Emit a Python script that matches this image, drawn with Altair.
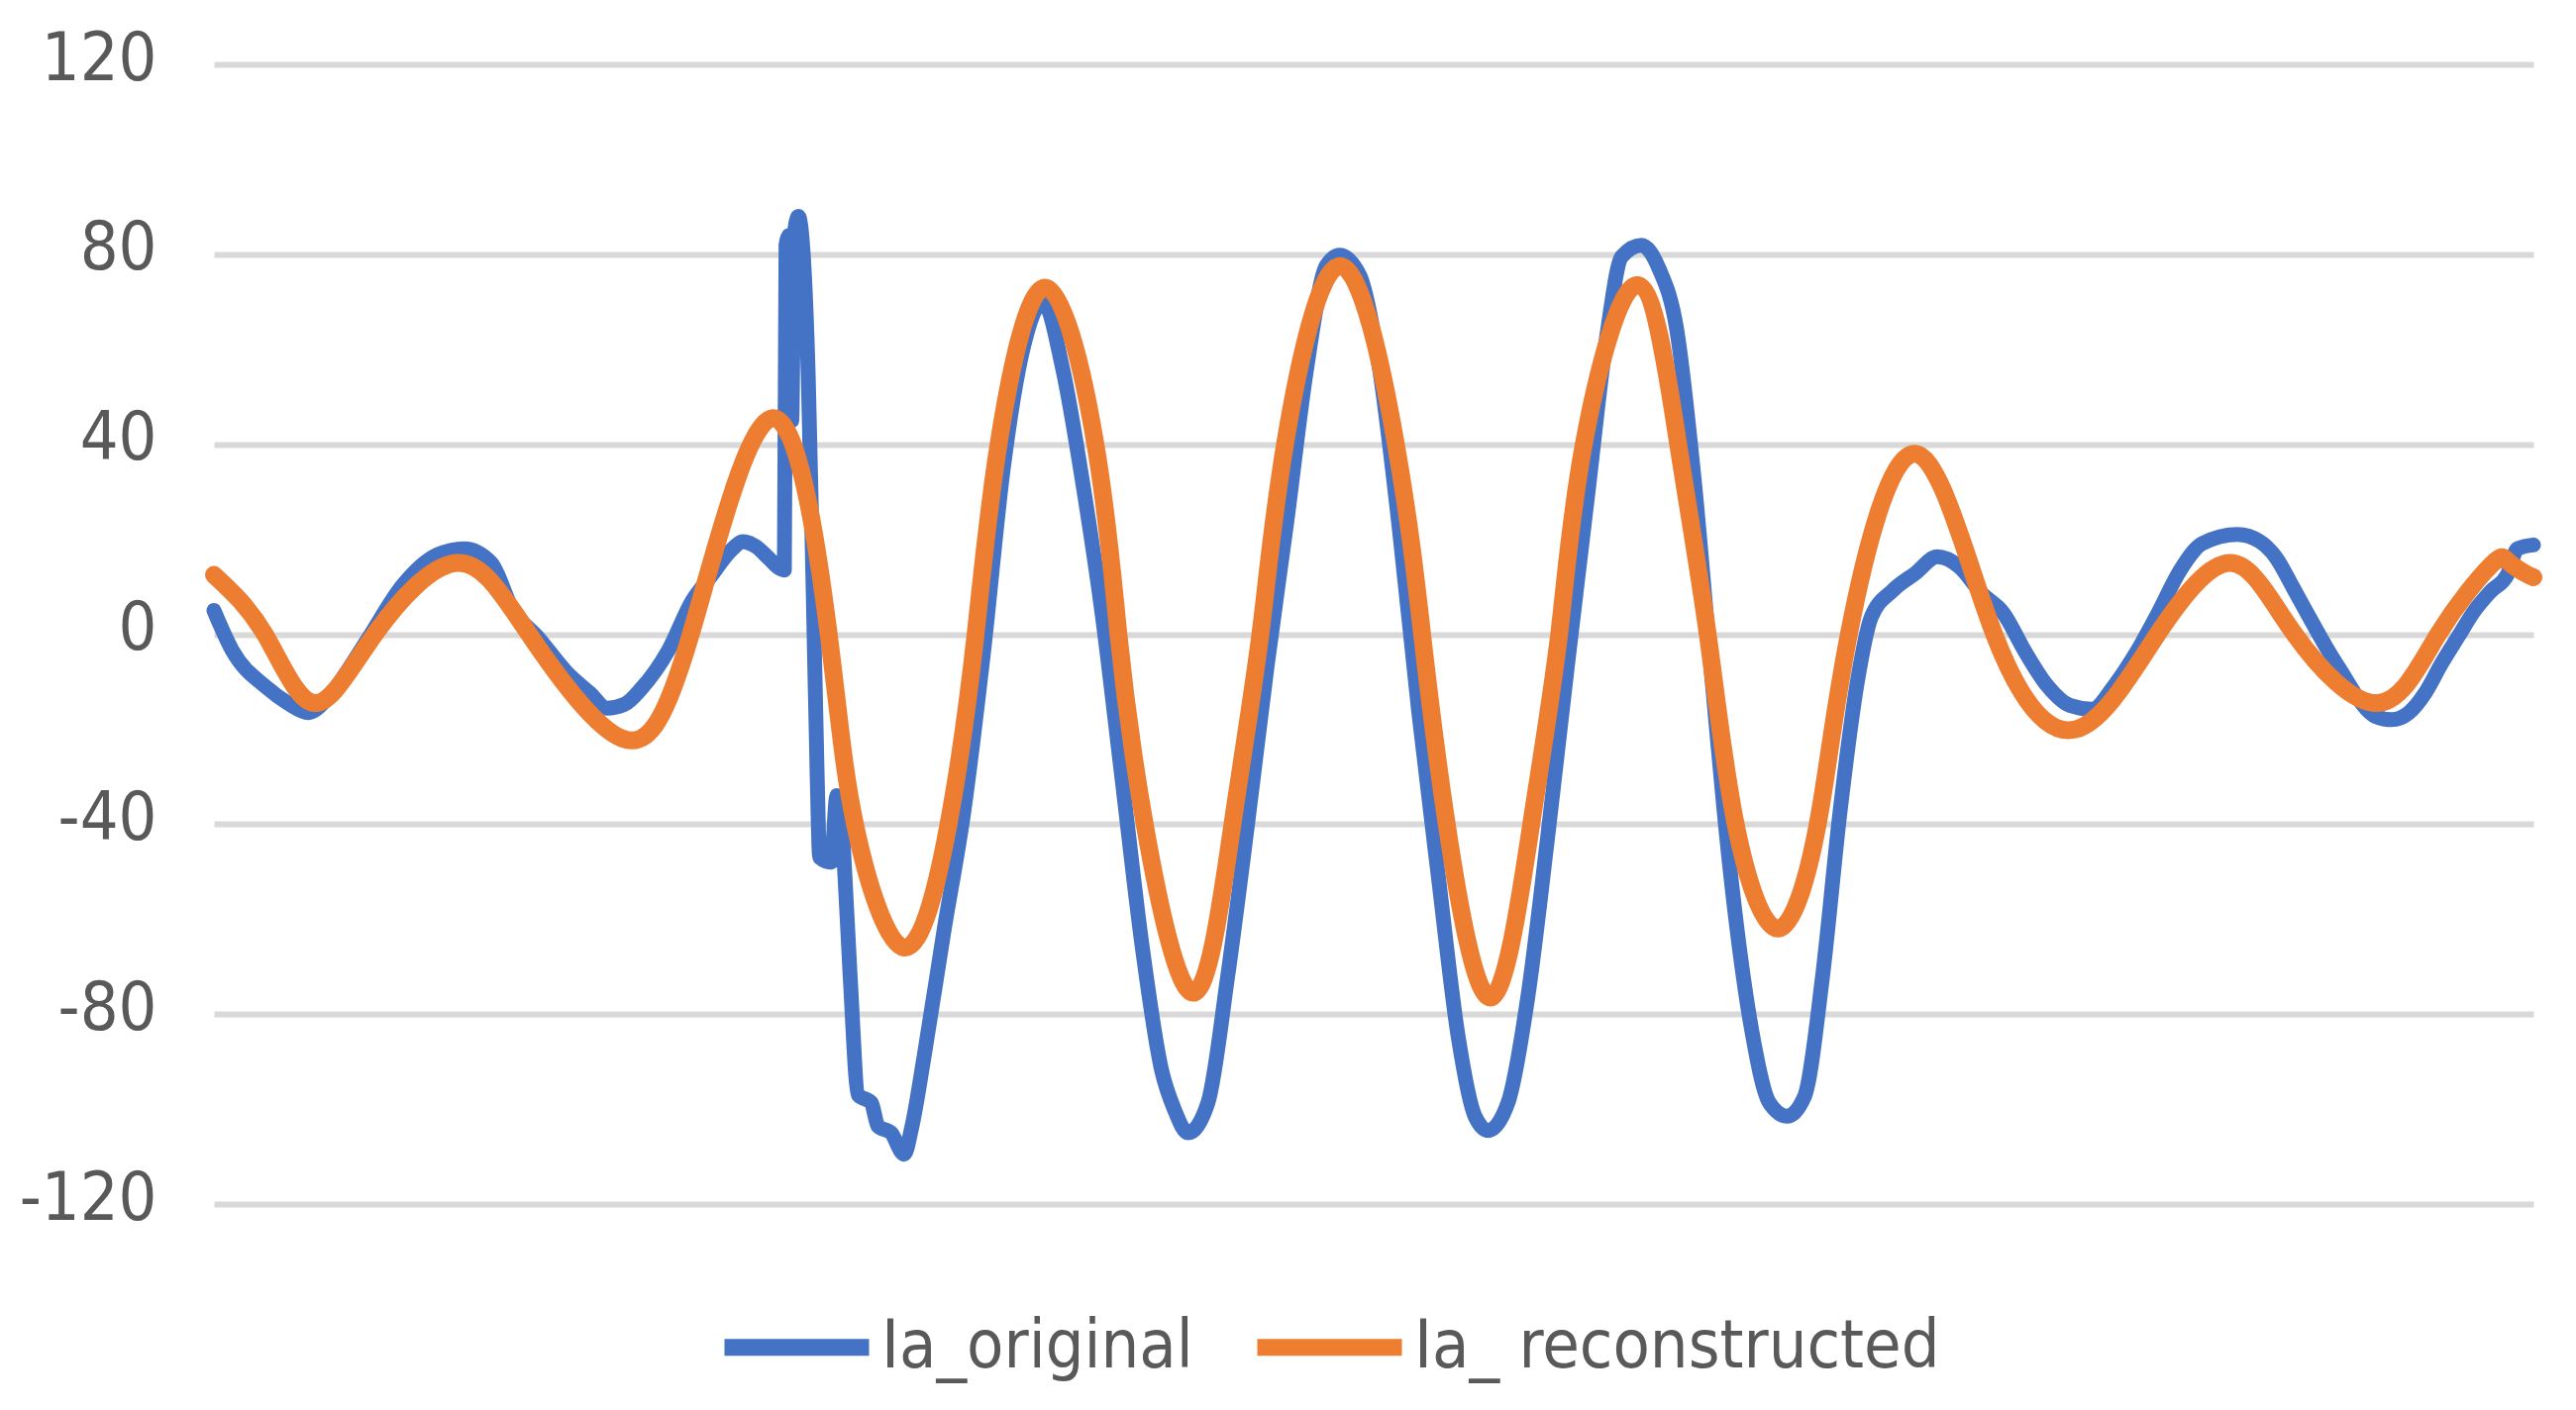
import altair as alt
import pandas as pd

# ---- data ----
SERIES = ["Ia_original", "Ia_ reconstructed"]
COLORS = ["#4472C4", "#ED7D31"]
Y_TICKS = [-120, -80, -40, 0, 40, 80, 120]

sample_orig = [0, 11, 32, 45, 57.5, 68, 77.7, 94, 115, 136, 152.5, 169, 181.5, 198, 214.8, 229,
               239.5, 250, 260, 277, 291.5, 302, 316, 322, 330, 338, 344, 347.5, 348.5, 350.5,
               352, 353.5, 356, 359, 362, 365, 367.5, 369, 376, 379.5, 381.5, 383.5, 387.5,
               392.5, 400.5, 404.5, 412.5, 420.5, 425, 432.6, 444.7, 456.8, 468.8, 480.9, 493,
               505, 517, 529, 541, 553.2, 565.3, 577.3, 585, 593.4, 605.5, 617.5, 629.6, 641.6,
               653.7, 665.7, 677.8, 685.8, 697.9, 710, 722, 734, 746, 758, 768.2, 776.3, 788.3,
               800.4, 812.4, 824.5, 836.5, 848.6, 857.6, 869.5, 880.3, 891, 901.8, 912.6, 923.3,
               936.8, 947.6, 958.4, 969, 979.9, 990.6, 1001.4, 1009.5, 1023, 1036.4, 1049.8,
               1063.3, 1076.8, 1090, 1103.7, 1117, 1130.6, 1144, 1157.5, 1171, 1184.4, 1197.9,
               1211.3, 1232.8, 1246.5, 1256.5, 1266.6, 1276.6, 1286.7, 1296.7, 1306.8, 1316.8,
               1326.9, 1336.9, 1347, 1357, 1367, 1377, 1387.2, 1397.2, 1403.2, 1413]
ia_orig = [5, -3.3, -11.2, -14.5, -16.5, -14, -9.6, -0.9, 10.3, 16.7, 18, 15, 5.5, -0.9, -8, -12.4,
           -15.6, -14.8, -11.6, -3.3, 7.1, 11.9, 18, 19.5, 18.5, 16, 14, 13.5, 82, 84,
           45, 84, 88, 80, 55, 10, -30, -47, -48, -34, -35, -45, -71.5,
           -97, -98.7, -103.6, -105, -109.5, -104, -89, -62.5, -37.4, -3.9, 35, 60.3,
           70, 56, 32.4, 4.5, -30.4, -65.3, -91.8, -100, -105, -98.7, -72.2, -40.2, -6.7,
           24, 56, 77.7, 79.8, 75.6, 56, 22.6, -16.5, -51.3, -84.8, -101.5, -104.5, -98.7,
           -76.4, -43, -6.7, 28.2, 63, 79.5, 81.9, 77, 64.4, 32.4, -9.5, -48.5,
           -83.4, -98.7, -101.5, -97.3, -72.2, -37.4, -9.5, 3.5, 9.3, 12.8, 16.3,
           14.2, 8.6, 4.5, -3.9, -10.9, -15, -15.8, -10.9, -3.9, 4.5, 13.5,
           19.1, 21, 19.5, 16, 9.8, 3.5, -2.7, -8.3, -13.8, -17.3,
           -18, -16.6, -12.4, -6.2, -0.6, 4.9, 9.1, 12.6, 18, 18.8]

sample_rec = [0, 31, 61, 98, 148, 192, 249, 290.5, 340.5, 374.5, 390.5, 420.5, 447.5, 464, 478,
              506.5, 537, 551, 567, 596.5, 620.5, 637.5, 652.5, 686, 720, 736, 751, 777.5, 802.5,
              819.5, 834.5, 867, 892, 910, 927, 953, 977, 996, 1036.5, 1084.5, 1134.5, 1184,
              1229, 1267.5, 1318, 1355, 1387, 1397, 1407, 1413]
ia_rec = [12.5, 0, -14.5, 0, 15, 0, -22, 0, 45.5, 0, -40, -66, -40, 0, 40,
          73, 40, 0, -40, -75.5, -40, 0, 40, 77.5, 40, 0, -40, -76.5, -40,
          0, 40, 73.5, 40, 0, -40, -62, -40, 0, 38, 0, -20, 0,
          15, 0, -14.5, 0, 14.5, 15.5, 13, 12]

df_o = pd.DataFrame({"sample": sample_orig, "value": ia_orig, "series": SERIES[0]})
df_r = pd.DataFrame({"sample": sample_rec, "value": ia_rec, "series": SERIES[1]})

FONT = "DejaVu Sans Condensed, Liberation Sans Narrow, DejaVu Sans"
TEXT = "#595959"

x = alt.X("sample:Q", scale=alt.Scale(domain=[0, 1413], nice=False, zero=False), axis=None)
y = alt.Y(
    "value:Q",
    scale=alt.Scale(domain=[-120, 120], nice=False),
    axis=alt.Axis(values=Y_TICKS, title=None, grid=True, gridColor="#D9D9D9", gridWidth=6,
                  domain=False, ticks=False, labelFontSize=68, labelColor=TEXT,
                  labelFont=FONT, labelPadding=58, labelOffset=-5,
                  labelExpr="'' + datum.value"),
)
color = alt.Color(
    "series:N",
    scale=alt.Scale(domain=SERIES, range=COLORS),
    legend=alt.Legend(title=None, orient="none", legendX=507, legendY=1214,
                      direction="horizontal", symbolType="stroke", symbolSize=21316,
                      symbolStrokeWidth=17, labelFontSize=68, labelFont=FONT,
                      labelColor=TEXT, labelOffset=4, columnPadding=30, labelLimit=2000),
)

line_o = alt.Chart(df_o).mark_line(strokeWidth=15, strokeJoin="round", strokeCap="round",
                                   interpolate="monotone").encode(
    x=x, y=y, color=color, order="sample:Q")
line_r = alt.Chart(df_r).mark_line(strokeWidth=18, strokeJoin="round", strokeCap="round",
                                   interpolate="natural").encode(
    x=x, y=y, color=color, order="sample:Q")

chart = alt.layer(line_o, line_r).properties(
    width=2342, height=1151,
    autosize=alt.AutoSizeParams(type="none"),
    padding={"left": 208, "top": 57, "right": 35, "bottom": 200},
    background="white",
).configure_view(stroke=None)

chart.save("out.html", embed_options={"renderer": "svg", "actions": False})
